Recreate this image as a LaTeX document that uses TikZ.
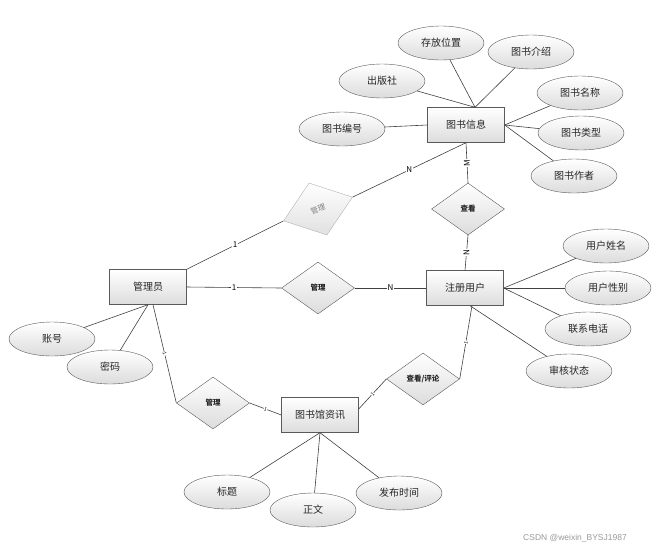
\documentclass[tikz,border=0pt]{standalone}
\usepackage{fontspec}
\setmainfont{Noto Sans CJK SC}
\newfontfamily\wmfont{Liberation Sans}
\usetikzlibrary{shapes.geometric}
\definecolor{bordc}{HTML}{5A5A5A}
\definecolor{shadeb}{HTML}{DCDCDC}
\tikzset{
  entity/.style={draw=bordc, rectangle, minimum width=77pt, minimum height=35pt, inner sep=0pt,
    top color=white, bottom color=shadeb, font=\fontsize{10}{12}\selectfont, text=black!85},
  attr/.style={draw=bordc, ellipse, minimum width=86pt, minimum height=34pt, inner sep=0pt,
    top color=white, bottom color=shadeb, font=\fontsize{10}{12}\selectfont, text=black!85},
  rel/.style={draw=bordc, diamond, minimum width=73pt, minimum height=52pt, inner sep=0pt,
    top color=white, bottom color=shadeb, font=\fontsize{7.5}{9}\selectfont\bfseries, text=black!85},
  relgray/.style={draw=black!30, diamond, minimum width=73pt, minimum height=55pt, inner sep=0pt,
    top color=white, bottom color=black!12, font=\fontsize{7.5}{9}\selectfont, text=black!50},
  conn/.style={draw=black!75, line width=0.6pt},
  lbl/.style={fill=white, inner sep=0.8pt, font=\fontsize{8}{9}\selectfont},
  tick/.style={fill=white, inner sep=0.3pt, font=\fontsize{5}{6}\selectfont, sloped},
}
\begin{document}
\begin{tikzpicture}[x=1pt,y=1pt]
\useasboundingbox (0,0) rectangle (660,-552);
% entities
\node[entity] (info) at (466,-125) {图书信息};
\node[entity] (admin) at (148,-287) {管理员};
\node[entity] (user) at (465,-288) {注册用户};
\node[entity] (news) at (320,-415) {图书馆资讯};
% relations
\node[rel] (look) at (468,-209) {查看};
\node[relgray, rotate=19] (gm) at (318,-209) {管理};
\node[rel] (m1) at (318,-288) {管理};
\node[rel] (m2) at (213,-403) {管理};
\node[rel] (m3) at (423,-379) {查看/评论};
% attributes of info
\node[attr] (pos) at (441,-43) {存放位置};
\node[attr] (intro) at (531,-52) {图书介绍};
\node[attr] (pub) at (382,-81) {出版社};
\node[attr] (bname) at (580,-93) {图书名称};
\node[attr] (btype) at (581,-133) {图书类型};
\node[attr] (bauth) at (574,-176) {图书作者};
\node[attr] (bno) at (342,-129) {图书编号};
% attributes of admin
\node[attr] (acc) at (52,-339) {账号};
\node[attr] (pwd) at (110,-367) {密码};
% attributes of user
\node[attr] (uname) at (606,-246) {用户姓名};
\node[attr] (usex) at (608,-288) {用户性别};
\node[attr] (utel) at (588,-329) {联系电话};
\node[attr] (ustat) at (569,-371) {审核状态};
% attributes of news
\node[attr] (title) at (227,-492) {标题};
\node[attr] (body) at (313,-510) {正文};
\node[attr] (ptime) at (399,-493) {发布时间};
% watermark
\node[font=\wmfont\fontsize{8.5}{10}\selectfont, text=black!40] (wm) at (575,-538) {CSDN @weixin\_BYSJ1987};
% connector anchor points
\coordinate (itop) at ([xshift=9pt]info.north);
\coordinate (abot) at (admin.south);
\coordinate (abot2) at ([xshift=5pt]admin.south);
\coordinate (ubot) at ([xshift=7pt]user.south);
\coordinate (ubot2) at ([xshift=5pt]user.south);
\coordinate (nright) at ([yshift=6pt]news.east);
% info attributes
\draw[conn] (itop) -- (pos);
\draw[conn] (itop) -- (intro);
\draw[conn] (itop) -- (pub);
\draw[conn] (info.east) -- (bname);
\draw[conn] (info.east) -- (btype);
\draw[conn] (info.east) -- (bauth);
\draw[conn] (info.west) -- (bno);
% admin attributes
\draw[conn] (abot) -- (acc);
\draw[conn] (abot) -- (pwd);
% user attributes
\draw[conn] (user.east) -- (uname);
\draw[conn] (user.east) -- (usex);
\draw[conn] (user.east) -- (utel);
\draw[conn] (ubot2) -- (ustat);
% news attributes
\draw[conn] (news.south) -- (title);
\draw[conn] (news.south) -- (body);
\draw[conn] (news.south) -- (ptime);
% relationships
\draw[conn] (info.south) -- node[lbl, rotate=90] {M} (look.north);
\draw[conn] (look.south) -- node[lbl, rotate=90] {N} (user.north);
\draw[conn] (admin.north east) -- node[lbl] {1} (gm.west);
\draw[conn] (gm.east) -- node[lbl] {N} (info.south);
\draw[conn] (admin.east) -- node[lbl] {1} (m1.west);
\draw[conn] (m1.east) -- node[lbl] {N} (user.west);
\draw[conn] (abot2) -- node[tick] {1} (m2.west);
\draw[conn] (m2.east) -- node[tick] {1} (news.west);
\draw[conn] (nright) -- node[tick] {1} (m3.west);
\draw[conn] (m3.east) -- node[tick] {1} (ubot);
\end{tikzpicture}
\end{document}
